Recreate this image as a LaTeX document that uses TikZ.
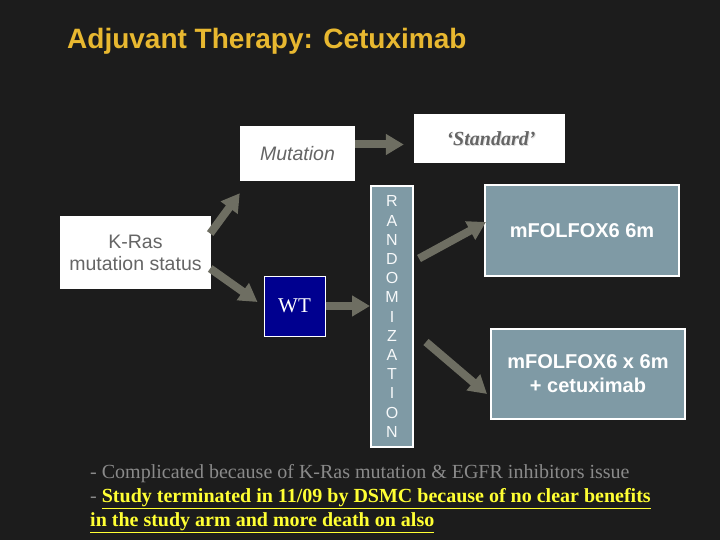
\documentclass[tikz,border=0pt]{standalone}
\usepackage{fontspec}
\setmainfont{Liberation Serif}
\setsansfont{Liberation Sans}
\usetikzlibrary{arrows.meta,calc}
\definecolor{bg}{HTML}{1C1C1C}
\definecolor{titlegold}{HTML}{E8B830}
\definecolor{steel}{HTML}{7F9AA5}
\definecolor{arrowgray}{HTML}{6E6E62}
\definecolor{txtgray}{HTML}{656565}
\definecolor{notegray}{HTML}{8A8A8A}
\definecolor{noteyellow}{HTML}{FFFF33}
\definecolor{wtblue}{HTML}{00008F}
\tikzset{
  whitebox/.style={draw=none, fill=white, inner sep=0pt, align=center, text=txtgray, font=\sffamily\fontsize{19.5}{22}\selectfont},
  steelbox/.style={draw=white, line width=2pt, fill=steel, inner sep=0pt, align=center, text=white, font=\sffamily\bfseries\fontsize{20}{24}\selectfont},
  arr/.style={draw=arrowgray, line width=8pt, -{Triangle[width=20pt,length=18pt]}},
  notefont/.style={font=\rmfamily\fontsize{20}{24}\selectfont},
  boldnotefont/.style={font=\rmfamily\bfseries\fontsize{20}{24}\selectfont},
}
\begin{document}
\begin{tikzpicture}[x=1pt,y=-1pt]
\fill[bg] (0,0) rectangle (720,540);
\useasboundingbox (0,0) rectangle (720,540);
% title
\node[anchor=base west, inner sep=0pt, text=titlegold, font=\sffamily\bfseries\fontsize{28}{32}\selectfont] (title) at (67,49) {Adjuvant Therapy: Cetuximab};
% boxes
\node[whitebox, minimum width=115pt, minimum height=55pt] (mut) at (297.5,153.5) {\itshape Mutation};
\node[whitebox, minimum width=151pt, minimum height=49pt] (std) at (489.5,138.5) {};
\node[text=white!75!gray, font=\rmfamily\bfseries\itshape\fontsize{20}{22}\selectfont, inner sep=0pt] (stdshadow) at (492,139.5) {‘Standard’};
\node[text=txtgray, font=\rmfamily\bfseries\itshape\fontsize{20}{22}\selectfont, inner sep=0pt] (stdtext) at (491,138.5) {‘Standard’};
\node[whitebox, minimum width=151pt, minimum height=73pt] (kras) at (135.5,252.5) {K-Ras\\mutation status};
\node[draw=white, line width=1pt, fill=wtblue, minimum width=61pt, minimum height=60pt, inner sep=0pt, text=white, font=\rmfamily\fontsize{21}{24}\selectfont] (wt) at (294.5,306) {WT};
\node[steelbox, minimum width=42pt, minimum height=261pt, font=\sffamily\fontsize{16}{19.2}\selectfont, text=white!94!steel] (rand) at (392,316.5) {R\\A\\N\\D\\O\\M\\I\\Z\\A\\T\\I\\O\\N};
\node[steelbox, minimum width=194pt, minimum height=91pt] (f1) at (582,230.5) {mFOLFOX6 6m};
\node[steelbox, minimum width=194pt, minimum height=90pt] (f2) at (588,374) {mFOLFOX6 x 6m\\+ cetuximab};
% arrows
\draw[arr] ($(mut.east)+(0,-9)$) -- ($(mut.east -| std.west)+(-10,-9)$);
\draw[arr] ($(kras.east)+(-1,-19)$) -- ($(mut.south west)+(0,12)$);
\draw[arr] ($(kras.east)+(-1,16)$) -- ($(wt.west)+(-6,-4)$);
\draw[arr] (wt.east) -- (wt.east -| rand.west);
\draw[arr] ($(rand.east)+(5,-58)$) -- ($(f1.west)+(2,-8.5)$);
\draw[arr] ($(rand.east)+(12,25.5)$) -- ($(f2.west)+(-3,20)$);
% notes
\node[anchor=base west, inner sep=0pt, text=notegray, notefont] (note1) at (90,478) {- Complicated because of K-Ras mutation \& EGFR inhibitors issue};
\node[anchor=base west, inner sep=0pt, notefont] (note2) at (90,502) {\textcolor{notegray}{- }\textcolor{noteyellow}{\bfseries\underline{Study terminated in 11/09 by DSMC because of no clear benefits}}};
\node[anchor=base west, inner sep=0pt, text=noteyellow, boldnotefont] (note3) at (90,526) {\underline{in the study arm and more death on also}};
\end{tikzpicture}
\end{document}
